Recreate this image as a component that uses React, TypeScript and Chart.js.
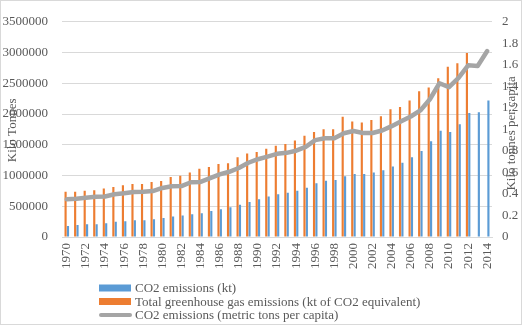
import React, { useEffect, useRef } from "react";
import { Chart, registerables } from "chart.js";

Chart.register(...registerables);

const years = [
  "1970", "1971", "1972", "1973", "1974", "1975", "1976", "1977", "1978", "1979",
  "1980", "1981", "1982", "1983", "1984", "1985", "1986", "1987", "1988", "1989",
  "1990", "1991", "1992", "1993", "1994", "1995", "1996", "1997", "1998", "1999",
  "2000", "2001", "2002", "2003", "2004", "2005", "2006", "2007", "2008", "2009",
  "2010", "2011", "2012", "2013", "2014",
];

const co2Kt = [
  180000, 196000, 207000, 207000, 222000, 247000, 258000, 273000, 273000, 289000,
  309000, 335000, 350000, 370000, 386000, 421000, 452000, 483000, 525000, 571000,
  612000, 659000, 694000, 720000, 751000, 802000, 875000, 916000, 926000, 988000,
  1024000, 1024000, 1049000, 1085000, 1147000, 1209000, 1296000, 1399000, 1559000, 1728000,
  1708000, 1832000, 2017000, 2027000, 2222000,
];

const ghgKt = [
  736000, 736000, 752000, 762000, 787000, 813000, 840000, 860000, 860000, 895000,
  910000, 977000, 998000, 1049000, 1111000, 1137000, 1188000, 1199000, 1296000, 1358000,
  1384000, 1435000, 1486000, 1512000, 1569000, 1646000, 1708000, 1754000, 1754000, 1955000,
  1878000, 1862000, 1903000, 1965000, 2079000, 2114000, 2222000, 2371000, 2433000, 2582000,
  2767000, 2824000, 2994000, null, null,
];

const perCapita = [
  0.35, 0.356, 0.365, 0.374, 0.377, 0.397, 0.406, 0.418, 0.42, 0.427,
  0.456, 0.472, 0.473, 0.509, 0.512, 0.547, 0.582, 0.606, 0.641, 0.69,
  0.723, 0.747, 0.773, 0.782, 0.802, 0.838, 0.9, 0.917, 0.917, 0.964,
  0.985, 0.967, 0.967, 0.99, 1.03, 1.076, 1.12, 1.176, 1.28, 1.429,
  1.393, 1.479, 1.596, 1.59, 1.728,
];

const seriesLabels = [
  "CO2 emissions (kt)",
  "Total greenhouse gas emissions (kt of CO2 equivalent)",
  "CO2 emissions (metric tons per capita)",
];
const leftTitle = "Kilo Tonnes";
const rightTitle = "Kilo tonnes per capita";

const FONT = "'Liberation Serif', 'Times New Roman', serif";
const TEXT = "#595959";
const BLUE = "#5B9BD5";
const ORANGE = "#ED7D31";
const GRAY = "#A5A5A5";

const decorPlugin = {
  id: "decor",
  beforeDraw(chart: any) {
    const ctx = chart.ctx;
    ctx.save();
    ctx.fillStyle = "#ffffff";
    ctx.fillRect(0, 0, chart.width, chart.height);
    ctx.restore();
  },
  afterDraw(chart: any) {
    const ctx = chart.ctx;
    const area = chart.chartArea;
    const midY = (area.top + area.bottom) / 2;
    ctx.save();
    // border
    ctx.strokeStyle = "#d9d9d9";
    ctx.lineWidth = 1;
    ctx.strokeRect(0.5, 0.5, chart.width - 1, chart.height - 1);
    // axis titles
    ctx.fillStyle = TEXT;
    ctx.font = `13px ${FONT}`;
    ctx.textAlign = "center";
    ctx.textBaseline = "middle";
    ctx.save();
    ctx.translate(13, midY + 1);
    ctx.rotate(-Math.PI / 2);
    ctx.fillText(leftTitle, 0, 0);
    ctx.restore();
    ctx.save();
    ctx.translate(512, midY + 4);
    ctx.rotate(-Math.PI / 2);
    ctx.fillText(rightTitle, 0, 0);
    ctx.restore();
    // legend
    const ds = chart.data.datasets;
    const x0 = 99;
    const rows = [288, 301.5, 315];
    ctx.textAlign = "left";
    ds.forEach((d: any, i: number) => {
      const y = rows[i];
      if (d.type === "line") {
        ctx.strokeStyle = d.borderColor;
        ctx.lineWidth = 4;
        ctx.lineCap = "round";
        ctx.beginPath();
        ctx.moveTo(x0 + 2, y);
        ctx.lineTo(x0 + 31, y);
        ctx.stroke();
      } else {
        ctx.fillStyle = d.backgroundColor;
        ctx.fillRect(x0, y - 3.5, 32, 7);
      }
      ctx.fillStyle = TEXT;
      ctx.fillText(d.label, x0 + 36, y + 1);
    });
    ctx.restore();
  },
};

export default function App() {
  const ref = useRef<HTMLCanvasElement | null>(null);

  useEffect(() => {
    if (!ref.current) return;
    Chart.defaults.font.family = FONT;
    const chart = new Chart(ref.current, {
      type: "bar",
      data: {
        labels: years,
        datasets: [
          {
            type: "bar",
            label: seriesLabels[0],
            data: co2Kt,
            backgroundColor: BLUE,
            yAxisID: "y",
            order: 2,
            categoryPercentage: 0.5,
            barPercentage: 0.9,
          },
          {
            type: "bar",
            label: seriesLabels[1],
            data: ghgKt,
            backgroundColor: ORANGE,
            yAxisID: "y",
            order: 1,
            categoryPercentage: 0.5,
            barPercentage: 0.9,
          },
          {
            type: "line",
            label: seriesLabels[2],
            data: perCapita,
            borderColor: GRAY,
            backgroundColor: GRAY,
            borderWidth: 4.5,
            pointRadius: 0,
            tension: 0,
            borderJoinStyle: "round",
            borderCapStyle: "round",
            yAxisID: "y1",
            order: 0,
          },
        ] as any,
      },
      options: {
        responsive: false,
        animation: false,
        layout: { padding: { top: 10, left: 0, right: 0, bottom: 0 } },
        plugins: {
          legend: { display: false },
          tooltip: { enabled: false },
          title: { display: false },
        },
        scales: {
          x: {
            grid: { display: false, drawTicks: false },
            border: { display: true, color: "#d9d9d9" },
            ticks: {
              autoSkip: false,
              minRotation: 90,
              maxRotation: 90,
              padding: 6,
              color: TEXT,
              font: { size: 13, family: FONT },
              callback: (_v: any, i: number) => (i % 2 === 0 ? years[i] : ""),
            },
            afterFit: (s: any) => {
              s.height = 88;
            },
          },
          y: {
            position: "left",
            min: 0,
            max: 3500000,
            grid: { color: "#d9d9d9", drawTicks: false, lineWidth: 1 },
            border: { display: false },
            ticks: {
              stepSize: 500000,
              padding: 14,
              color: TEXT,
              font: { size: 13, family: FONT },
              callback: (v: any) => String(v),
            },
            afterFit: (s: any) => {
              s.width = 62;
            },
          },
          y1: {
            position: "right",
            min: 0,
            max: 2,
            grid: { display: false, drawTicks: false },
            border: { display: false },
            ticks: {
              stepSize: 0.2,
              padding: 10,
              color: TEXT,
              font: { size: 13, family: FONT },
              callback: (v: any) => String(Math.round(Number(v) * 10) / 10),
            },
            afterFit: (s: any) => {
              s.width = 30;
            },
          },
        },
      } as any,
      plugins: [decorPlugin],
    });
    return () => chart.destroy();
  }, []);

  return (
    <div style={{ position: "absolute", left: 0, top: 0, width: 522, height: 325 }}>
      <canvas ref={ref} width={522} height={325} style={{ display: "block" }} />
    </div>
  );
}
